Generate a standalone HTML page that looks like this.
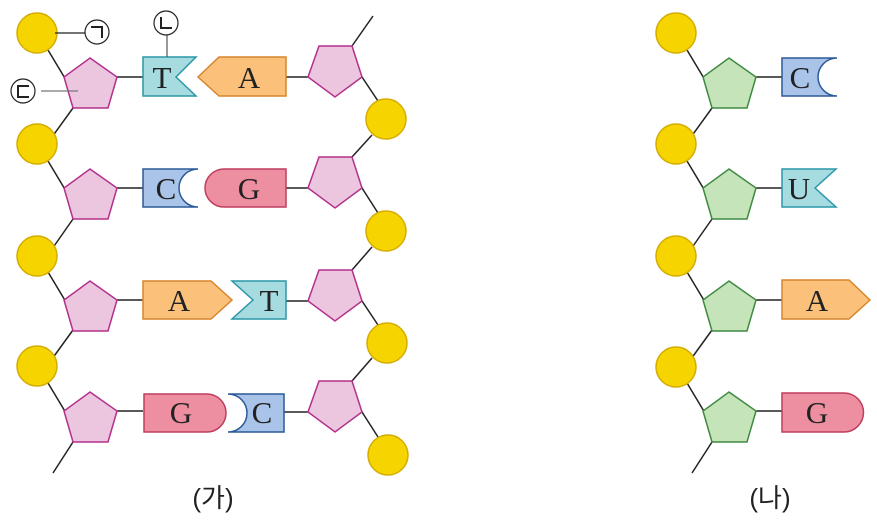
<!DOCTYPE html>
<html><head><meta charset="utf-8"><style>
html,body{margin:0;padding:0;background:#fff;}
svg{display:block;}
text{font-family:"Liberation Serif",serif;font-size:31px;fill:#222;text-anchor:middle;}
.k{font-family:"Liberation Sans","Noto Sans CJK KR",sans-serif;font-size:26px;fill:#222;}
</style></head><body>
<svg width="877" height="530" viewBox="0 0 877 530" xmlns="http://www.w3.org/2000/svg">
<defs>
<g id="pp"><polygon points="90,58 117,77 108,108 73,108 64,77" fill="#ecc5df" stroke="#b3308c" stroke-width="1.5"/></g>
<g id="pg"><polygon points="90,58 117,77 108,108 73,108 64,77" fill="#c5e4b9" stroke="#3f8a40" stroke-width="1.5"/></g>
<g id="pr"><polygon points="319,46 352,46 362,77 335,97 308,77" fill="#ecc5df" stroke="#b3308c" stroke-width="1.5"/></g>
<circle id="ci" r="20" fill="#f6d400" stroke="#d4ad00" stroke-width="1.5"/>
</defs>
<g stroke="#222" stroke-width="1.5" fill="none">
<line x1="48" y1="50" x2="66" y2="80"/><line x1="73" y1="108" x2="52" y2="137"/>
<line x1="48" y1="161" x2="66" y2="191"/><line x1="73" y1="219" x2="52" y2="249"/>
<line x1="48" y1="272" x2="66" y2="302"/><line x1="73" y1="330" x2="52" y2="359"/>
<line x1="48" y1="383" x2="66" y2="413"/><line x1="73" y1="442" x2="53" y2="473"/>
<line x1="117" y1="77" x2="143" y2="77"/><line x1="117" y1="188" x2="143" y2="188"/>
<line x1="117" y1="300" x2="143" y2="300"/><line x1="117" y1="411" x2="143" y2="411"/>
<line x1="352" y1="46" x2="373" y2="16"/>
<line x1="362" y1="77" x2="378" y2="101"/><line x1="372" y1="135" x2="352" y2="157"/>
<line x1="362" y1="188" x2="378" y2="213"/><line x1="372" y1="247" x2="352" y2="270"/>
<line x1="362" y1="301" x2="378" y2="325"/><line x1="372" y1="358" x2="352" y2="381"/>
<line x1="362" y1="412" x2="378" y2="437"/>
<line x1="286" y1="77" x2="308" y2="77"/><line x1="286" y1="188" x2="308" y2="188"/>
<line x1="286" y1="301" x2="308" y2="301"/><line x1="284" y1="412" x2="308" y2="412"/>
<line x1="687" y1="50" x2="705" y2="80"/><line x1="712" y1="108" x2="691" y2="137"/>
<line x1="687" y1="161" x2="705" y2="191"/><line x1="712" y1="219" x2="691" y2="249"/>
<line x1="687" y1="272" x2="705" y2="302"/><line x1="712" y1="330" x2="691" y2="359"/>
<line x1="687" y1="383" x2="705" y2="413"/><line x1="712" y1="442" x2="692" y2="473"/>
<line x1="756" y1="77" x2="782" y2="77"/><line x1="756" y1="188" x2="782" y2="188"/>
<line x1="756" y1="300" x2="782" y2="300"/><line x1="756" y1="411" x2="782" y2="411"/>
</g>
<use href="#ci" x="37" y="33"/><use href="#ci" x="37" y="144"/><use href="#ci" x="37" y="256"/><use href="#ci" x="37" y="366"/>
<use href="#ci" x="386" y="119"/><use href="#ci" x="386" y="231"/><use href="#ci" x="387" y="343"/><use href="#ci" x="388" y="455"/>
<use href="#ci" x="676" y="33"/><use href="#ci" x="676" y="144"/><use href="#ci" x="676" y="256"/><use href="#ci" x="676" y="367"/>
<use href="#pp"/><use href="#pp" y="111"/><use href="#pp" y="223"/><use href="#pp" y="334"/>
<use href="#pr"/><use href="#pr" y="111"/><use href="#pr" y="224"/><use href="#pr" y="335"/>
<use href="#pg" x="639"/><use href="#pg" x="639" y="111"/><use href="#pg" x="639" y="223"/><use href="#pg" x="639" y="334"/>
<polygon points="143,57 196,57 176,77 196,96 143,96" fill="#a6dbe0" stroke="#2a97a8" stroke-width="1.5"/><text x="162" y="88">T</text>
<polygon points="198,77 219,57 286,57 286,96 219,96" fill="#fbc17b" stroke="#d5862c" stroke-width="1.5"/><text x="249" y="88">A</text>
<path d="M143,169 H198 A19,19 0 0 0 198,207 H143 Z" fill="#a9c4e8" stroke="#2b5a98" stroke-width="1.5"/><text x="166" y="199">C</text>
<path d="M224,169 H286 V207 H224 A19,19 0 0 1 224,169 Z" fill="#ee8ea1" stroke="#be3f5e" stroke-width="1.5"/><text x="249" y="199">G</text>
<polygon points="143,281 211,281 232,300 211,319 143,319" fill="#fbc17b" stroke="#d5862c" stroke-width="1.5"/><text x="179" y="311">A</text>
<polygon points="232,281 286,281 286,319 232,319 253,300" fill="#a6dbe0" stroke="#2a97a8" stroke-width="1.5"/><text x="269" y="311">T</text>
<path d="M144,394 H207 A19,19 0 0 1 207,432 H144 Z" fill="#ee8ea1" stroke="#be3f5e" stroke-width="1.5"/><text x="181" y="423">G</text>
<path d="M228,394 H284 V432 H228 A19,19 0 0 0 228,394 Z" fill="#a9c4e8" stroke="#2b5a98" stroke-width="1.5"/><text x="262" y="423">C</text>
<path d="M782,58 H837 A19,19 0 0 0 837,96 H782 Z" fill="#a9c4e8" stroke="#2b5a98" stroke-width="1.5"/><text x="800" y="88">C</text>
<polygon points="782,169 836,169 815,188 836,207 782,207" fill="#a6dbe0" stroke="#2a97a8" stroke-width="1.5"/><text x="799" y="199">U</text>
<polygon points="782,280 849,280 870,300 849,319 782,319" fill="#fbc17b" stroke="#d5862c" stroke-width="1.5"/><text x="817" y="311">A</text>
<path d="M782,393 H844 A19,19 0 0 1 844,432 H782 Z" fill="#ee8ea1" stroke="#be3f5e" stroke-width="1.5"/><text x="817" y="423">G</text>
<g stroke="#222" stroke-width="1.2" fill="#fff">
<line x1="55" y1="33" x2="85" y2="33"/><circle cx="97" cy="32" r="12"/>
<line x1="167" y1="35" x2="167" y2="57" stroke="#555"/><circle cx="166" cy="23" r="12"/>
<line x1="41" y1="91" x2="78" y2="91" stroke="#777"/><circle cx="23" cy="91" r="12"/>
</g>
<g stroke="#222" stroke-width="2" fill="none">
<path d="M91,27 H102 V38"/>
<path d="M161,17 V28 H172"/>
<path d="M29,86 H18 V97 H29"/>
</g>
<text class="k" x="213" y="507">(가)</text>
<text class="k" x="770" y="507">(나)</text>
</svg>
</body></html>
